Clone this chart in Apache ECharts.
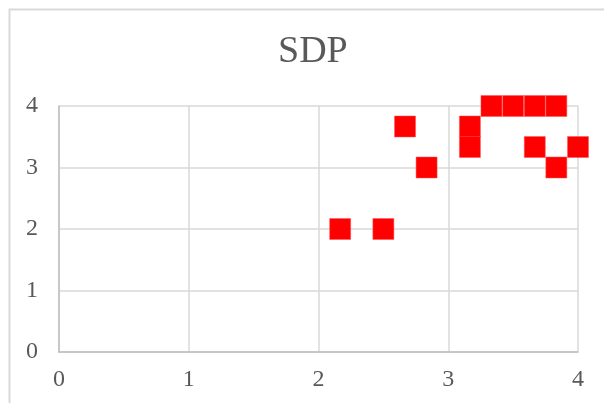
<!DOCTYPE html>
<html>
<head>
<meta charset="utf-8">
<script src="https://cdn.jsdelivr.net/npm/echarts@6/dist/echarts.min.js"></script>
<style>
html,body{margin:0;padding:0;background:#fff;}
#chart{width:604px;height:403px;}
</style>
</head>
<body>
<div id="chart"></div>
<script>
// SDP 散点数据
var xValues = [2.167, 2.5, 2.667, 2.833, 3.167, 3.167, 3.333, 3.5, 3.667, 3.833, 3.667, 3.833, 4];
var yValues = [2, 2, 3.667, 3, 3.667, 3.333, 4, 4, 4, 4, 3.333, 3, 3.333];
var titleText = "SDP";

var points = [];
for (var i = 0; i < xValues.length; i++) {
	points.push([xValues[i], yValues[i]]);
}

var myChart = echarts.init(document.getElementById('chart'));
var serif = "'Liberation Serif', 'Times New Roman', serif";
var option = {
	animation: false,
	title: {
		text: titleText,
		left: 273,
		top: 28,
		textStyle: {fontFamily: serif, fontSize: 38, fontWeight: 'normal', color: '#595959'}
	},
	graphic: [{
		type: 'rect',
		shape: {x: 9.5, y: 9.5, width: 640, height: 440},
		style: {fill: null, stroke: '#d9d9d9', lineWidth: 2}
	}],
	grid: {left: 59, right: 26, top: 106, bottom: 51},
	xAxis: {
		type: 'value', min: 0, max: 4, interval: 1,
		axisLine: {show: true, lineStyle: {color: '#bfbfbf', width: 1.5}},
		axisTick: {show: false},
		axisLabel: {fontFamily: serif, fontSize: 24, color: '#595959', margin: 16},
		splitLine: {show: true, lineStyle: {color: '#d9d9d9', width: 1.5}}
	},
	yAxis: {
		type: 'value', min: 0, max: 4, interval: 1,
		axisLine: {show: true, lineStyle: {color: '#bfbfbf', width: 1.5}},
		axisTick: {show: false},
		axisLabel: {fontFamily: serif, fontSize: 24, color: '#595959', margin: 21},
		splitLine: {show: true, lineStyle: {color: '#d9d9d9', width: 1.5}}
	},
	series: [{
		type: 'scatter',
		symbol: 'rect',
		symbolSize: 21,
		data: points,
		itemStyle: {color: '#ff0000', opacity: 1, borderColor: '#ff5050', borderWidth: 0.5}
	}]
};
myChart.setOption(option);
</script>
</body>
</html>
